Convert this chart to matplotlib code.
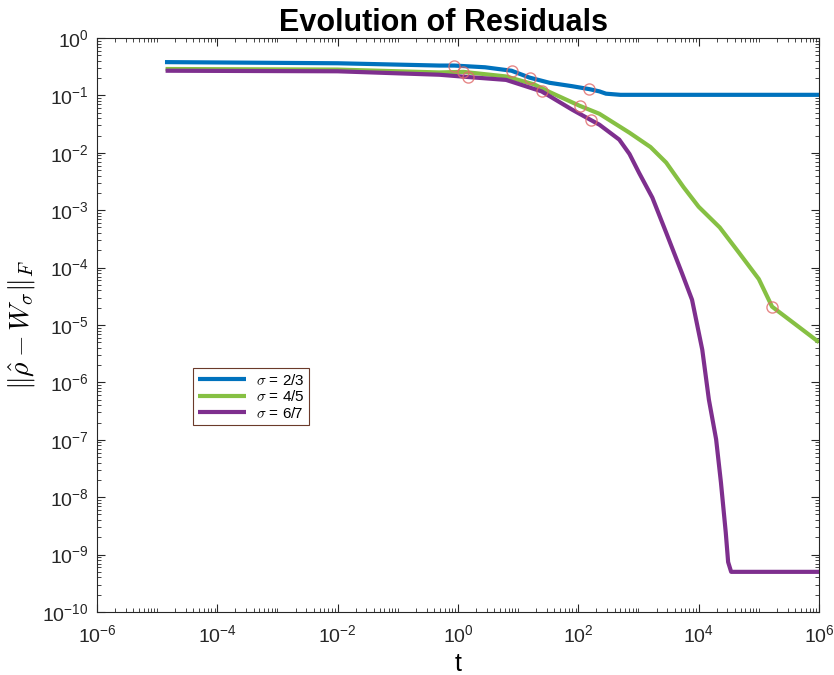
import numpy as np
import matplotlib
matplotlib.use('Agg')
import matplotlib.pyplot as plt
from matplotlib.ticker import LogLocator, NullFormatter

plt.rcParams['font.family'] = ['Liberation Sans', 'DejaVu Sans']
plt.rcParams['mathtext.fontset'] = 'cm'

# values, as log10(t), log10(residual)
blue_lt = [-4.87, -2.0, -0.31, -0.06, 0.45, 0.89, 1.19, 1.52, 1.9, 2.18, 2.35, 2.46, 2.7, 6.0]
blue_ly = [-0.42, -0.44, -0.48, -0.48, -0.51, -0.57, -0.69, -0.78, -0.84, -0.89, -0.93, -0.97, -0.99, -0.99]
blue_mt = [-0.06, 0.89, 1.19, 2.18]
blue_my = [-0.48, -0.57, -0.69, -0.89]

green_lt = [-4.86, -2.0, -0.31, 0.09, 0.80, 1.27, 1.52, 2.02, 2.35, 2.85, 3.2, 3.46, 3.75, 4.0, 4.35,
            4.67, 5.0, 5.22, 6.0]
green_ly = [-0.54, -0.55, -0.60, -0.59, -0.67, -0.81, -0.94, -1.18, -1.32, -1.65, -1.90, -2.17, -2.60,
            -2.94, -3.30, -3.74, -4.20, -4.68, -5.30]
green_mt = [0.09, 2.02, 5.22]
green_my = [-0.59, -1.18, -4.68]

purple_lt = [-4.86, -2.0, -0.31, 0.17, 0.80, 1.39, 1.90, 2.21, 2.35, 2.68, 2.85, 3.01, 3.23, 3.46,
             3.72, 3.89, 4.06, 4.17, 4.29, 4.37, 4.45, 4.49, 4.54, 6.0]
purple_ly = [-0.57, -0.58, -0.64, -0.68, -0.73, -0.93, -1.25, -1.43, -1.51, -1.77, -2.02, -2.35, -2.78, -3.39,
             -4.09, -4.56, -5.43, -6.30, -6.99, -7.74, -8.61, -9.13, -9.30, -9.30]
purple_mt = [0.17, 1.39, 2.21]
purple_my = [-0.68, -0.93, -1.43]

labels = [r'$\sigma$ = 2/3', r'$\sigma$ = 4/5', r'$\sigma$ = 6/7']
colors = ['#0072BD', '#86C043', '#7E2F8E']

series = [(blue_lt, blue_ly, blue_mt, blue_my),
          (green_lt, green_ly, green_mt, green_my),
          (purple_lt, purple_ly, purple_mt, purple_my)]

fig = plt.figure(figsize=(8.34, 6.75), dpi=100)
ax = fig.add_axes([0.1163, 0.0933, 0.8657, 0.8504])

for (lt, ly, mt, my), lab, c in zip(series, labels, colors):
    ax.plot(10 ** np.array(lt), 10 ** np.array(ly), color=c, lw=3, label=lab, zorder=2,
            solid_joinstyle='round', solid_capstyle='butt')
for (lt, ly, mt, my), c in zip(series, colors):
    ax.plot(10 ** np.array(mt), 10 ** np.array(my), ls='none', marker='o', ms=8,
            mfc='none', mec='#e06a6a', mew=1, alpha=0.8, zorder=3)

ax.set_xscale('log')
ax.set_yscale('log')
ax.set_xlim(1e-6, 1e6)
ax.set_ylim(1e-10, 1e0)
ax.set_xticks([10.0 ** k for k in range(-6, 7, 2)])
ax.xaxis.set_minor_locator(LogLocator(base=10, subs=np.arange(1, 10), numticks=30))
ax.xaxis.set_minor_formatter(NullFormatter())
ax.set_yticks([10.0 ** k for k in range(-10, 1)])
ax.yaxis.set_minor_locator(LogLocator(base=10, subs=np.arange(2, 10), numticks=30))
ax.yaxis.set_minor_formatter(NullFormatter())
ax.tick_params(which='both', direction='in', top=True, right=True, colors='#262626',
               labelsize=14)
ax.tick_params(which='major', length=6)
ax.tick_params(which='minor', length=3)
ax.tick_params(axis='x', which='major', pad=9)
ax.tick_params(axis='y', which='major', pad=6)
for s in ax.spines.values():
    s.set_color('#262626')

ax.set_title('Evolution of Residuals', fontsize=22, fontweight='bold', pad=5, x=0.48)
ax.set_xlabel('t', fontsize=18, labelpad=4)
ax.set_ylabel(r'$\|\hat{\rho} - W_\sigma\|_F$', fontsize=20, labelpad=4)

leg = ax.legend(loc='upper left', bbox_to_anchor=(0.133, 0.425), fontsize=11,
                fancybox=False, framealpha=1, handlelength=3.2, borderpad=0.3,
                labelspacing=0.1, borderaxespad=0, handletextpad=0.6)
leg.get_frame().set_edgecolor('#6b3a2a')
leg.get_frame().set_linewidth(0.8)

fig.savefig('out.png', dpi=100)
